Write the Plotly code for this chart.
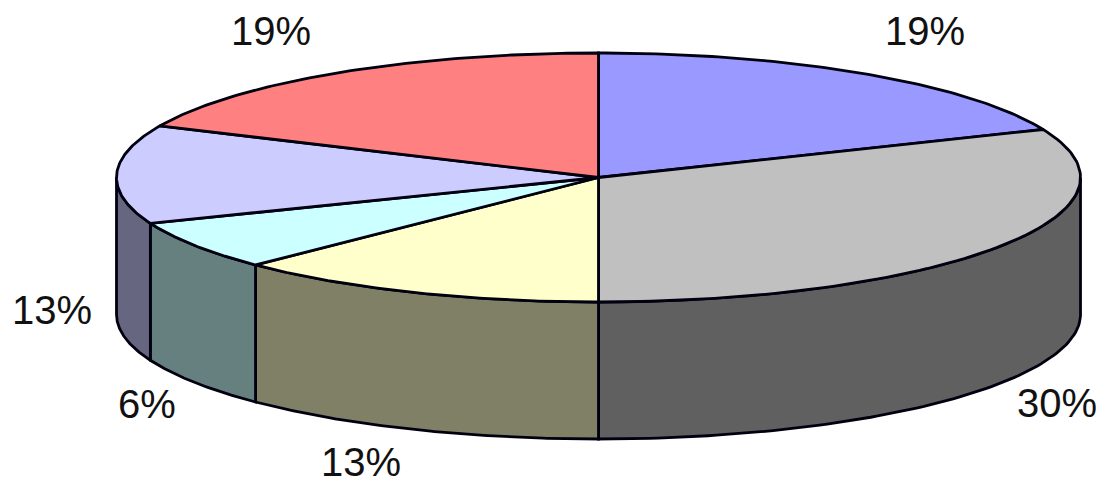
import numpy as np
import plotly.graph_objects as go

# slice shares, clockwise from 12 o'clock
shares = [18.7, 31.3, 12.6, 6.4, 12.8, 18.2]
labels = ["19%", "30%", "13%", "6%", "13%", "19%"]
top_colors = ["#9999FF", "#C0C0C0", "#FFFFCC", "#CCFFFF", "#CCCCFF", "#FF8080"]
side_colors = ["#666680", "#606060", "#808066", "#668080", "#666680", "#804040"]

# label anchor points, in pixels
label_x = [925, 1057, 361, 147, 52, 271]
label_y = [35, 407, 466, 408, 314, 35]

W, H = 1099, 484
CX, CY = 598.5, 177.5
RX, RY = 482, 124.5
DEPTH = 137
LINE = dict(color="#000010", width=2.8)


def arc(a0, a1, dy=0):
    t = np.radians(np.linspace(a0, a1, 90))
    return CX + RX * np.sin(t), CY - RY * np.cos(t) + dy


edges = np.cumsum([0] + shares) / sum(shares) * 360
fig = go.Figure()

# front wall, only the part of each slice between 90 and 270 degrees
for i in range(len(shares)):
    a0, a1 = max(edges[i], 90), min(edges[i + 1], 270)
    if a0 >= a1:
        continue
    xt, yt = arc(a0, a1)
    xb, yb = arc(a1, a0, DEPTH)
    fig.add_trace(go.Scatter(
        x=np.r_[xt, xb, xt[0]], y=np.r_[yt, yb, yt[0]],
        mode="lines", fill="toself", fillcolor=side_colors[i], line=LINE,
        hoverinfo="skip",
    ))

# top face
for i in range(len(shares)):
    xt, yt = arc(edges[i], edges[i + 1])
    fig.add_trace(go.Scatter(
        x=np.r_[CX, xt, CX], y=np.r_[CY, yt, CY],
        mode="lines", fill="toself", fillcolor=top_colors[i], line=LINE,
        hoverinfo="skip",
    ))

fig.add_trace(go.Scatter(
    x=label_x, y=label_y, text=labels, mode="text",
    textposition="middle center",
    textfont=dict(family="Liberation Sans", size=40, color="#111111"),
    cliponaxis=False,
    hoverinfo="skip",
))

fig.update_layout(
    width=W, height=H, margin=dict(l=0, r=0, t=0, b=0),
    paper_bgcolor="white", plot_bgcolor="white", showlegend=False,
    xaxis=dict(range=[0, W], visible=False, fixedrange=True),
    yaxis=dict(range=[H, 0], visible=False, fixedrange=True),
)
# page body has a default margin that would shift the chart
fig.write_html("out.html", config={"displayModeBar": False},
               post_script="document.body.style.margin='0';")
